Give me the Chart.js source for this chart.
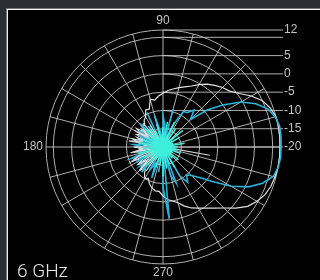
<!DOCTYPE html>
<html>
<head>
<meta charset="utf-8">
<script src="https://cdn.jsdelivr.net/npm/chart.js@4.4.1/dist/chart.umd.min.js"></script>
<style>
  html, body { margin: 0; padding: 0; background: #2a2d33; }
  #frame { position: absolute; left: 6px; top: 8px; right: 0; bottom: 0; border-left: 1px solid #777; border-top: 1px solid #777; }
  #panel { position: absolute; left: 0; top: 0; right: 0; bottom: 0; background: #000; border-left: 1px solid #eee; border-top: 1px solid #eee; }
  #chart { position: absolute; left: 0; top: 0; }
</style>
</head>
<body>
<div id="frame"><div id="panel"></div></div>
<canvas id="chart" width="320" height="280"></canvas>
<script>
// angles in degrees, counter-clockwise from the right (0 = right, 90 = top)
var ANGLES = [0,5,10,15,20,25,30,35,40,45,50,55,60,65,70,75,80,85,
              90,95,100,105,110,115,120,125,130,135,140,145,150,155,160,165,170,175,
              180,185,190,195,200,205,210,215,220,225,230,235,240,245,250,255,260,265,
              270,275,280,285,290,295,300,305,310,315,320,325,330,335,340,345,350,355];

// gain in dB, one value per angle above
var whiteMain = [12.0,12.1,12.1,12.0,11.2,10.0,7.9,5.5,3.8,3.0,2.0,1.0,-0.3,-1.6,-2.5,-3.2,-3.9,-4.5,
                 -5.3,-6.0,-7.0,-6.5,-9.0,-8.8,-10.5,-11.0,-12.2,-11.5,-13.8,-11.2,-13.5,-12.0,-15.0,-11.5,-13.2,-15.5,
                 -12.5,-14.2,-12.0,-15.0,-12.6,-11.0,-14.0,-11.6,-13.0,-11.0,-12.6,-11.2,-10.0,-10.5,-9.2,-8.4,-7.8,-7.8,
                 -6.6,-5.6,-5.0,-4.2,-2.8,-1.6,-0.7,0.4,1.8,3.6,6.0,8.3,9.7,10.8,11.4,11.7,11.9,12.0];

var whiteCross = [-20,-20,-20,-20,-20,-20,-20,-20,-20,-20,-20,-20,-20,-20,-20,-20,-20,-20,
                  -20,-20,-20,-20,-20,-20,-13,-20,-11.5,-20,-12,-15,-11,-20,-12.5,-14,-10.5,-20,
                  -12,-15,-11,-20,-13,-10.5,-20,-12,-14.5,-11,-20,-12,-20,-20,-20,-20,-20,-20,
                  -20,-20,-20,-20,-20,-20,-20,-20,-20,-20,-20,-20,-20,-20,-20,-20,-7,-20];

var cyanMain = [12.3,12.4,12.4,11.8,10.5,8.0,4.6,0.0,-4.3,-9.4,-6.8,-8.5,-8.8,-13.0,-20,-9.4,-20,-14.0,
                -11.5,-20,-15.5,-11.0,-20,-9.6,-20,-13.0,-15.5,-11.0,-20,-12.0,-15.0,-12.8,-20,-12.5,-16.0,-12.0,
                -14.5,-20,-12.5,-15.0,-10.8,-14.5,-11.5,-20,-12.0,-14.0,-11.0,-20,-12.5,-15.0,-11.0,-20,-13.0,-20,
                -9.0,-0.3,-20,-12.0,-9.5,-20,-11.0,-8.2,-10.0,-9.0,-7.0,-3.5,1.5,5.8,9.0,11.2,12.0,12.3];

var aquaCenter = [-16,-20,-14,-20,-17,-20,-15,-20,-13,-18,-20,-14,-20,-12.5,-17,-20,-13,-20,
                  -14.5,-17,-20,-13.5,-20,-15,-20,-14,-20,-13,-17,-20,-15,-20,-14,-20,-13.5,-17,
                  -20,-14.5,-20,-13,-17,-20,-14,-20,-15.5,-20,-13.5,-20,-16,-20,-14,-20,-15,-20,
                  -12,-20,-14,-20,-15,-20,-13.5,-20,-16,-20,-14.5,-20,-17,-20,-15,-20,-16,-20];

var RING_VALUES = [12, 10, 5, 0, -5, -10, -15, -20];
var RING_LABELS = ['12', '', '5', '0', '-5', '-10', '-15', '-20'];
var AXIS_LABELS = ['90', '180', '270'];
var CAPTION = '6 GHz';

var GRID = 'rgba(205,205,205,0.85)';

// radar goes clockwise from the start angle, so walk the angles backwards
var order = ANGLES.map(function(a, k) { return (ANGLES.length - k) % ANGLES.length; });
var labels = order.map(function(i) { return ANGLES[i]; });
function pick(arr) { return order.map(function(i) { return arr[i]; }); }

var polarText = {
  id: 'polarText',
  beforeDatasetsDraw: function(chart) {
    var s = chart.scales.r, c = chart.ctx;
    var xEnd = s.xCenter + s.drawingArea + 3;
    c.save();
    c.strokeStyle = GRID;
    c.lineWidth = 1;
    RING_VALUES.forEach(function(v) {
      var y = s.yCenter - s.getDistanceFromCenterForValue(v);
      c.beginPath();
      c.moveTo(s.xCenter, y);
      c.lineTo(xEnd, y);
      c.stroke();
    });
    c.restore();
  },
  afterDraw: function(chart) {
    var s = chart.scales.r, c = chart.ctx;
    var xEnd = s.xCenter + s.drawingArea + 3;
    c.save();
    c.fillStyle = '#c4c4c4';
    c.font = '12px "Liberation Sans"';
    c.textBaseline = 'middle';
    c.textAlign = 'left';
    RING_VALUES.forEach(function(v, i) {
      var y = s.yCenter - s.getDistanceFromCenterForValue(v);
      c.fillText(RING_LABELS[i], xEnd + 1, y);
    });
    AXIS_LABELS.forEach(function(t) {
      var idx = labels.indexOf(Number(t));
      var far = t === '180' ? s.drawingArea + 3 : s.drawingArea + 9;
      var p = s.getPointPosition(idx, far);
      c.textAlign = t === '180' ? 'right' : 'center';
      c.fillText(t, p.x, p.y);
    });
    c.fillStyle = '#e8e8e8';
    c.font = '300 19px Roboto';
    c.textAlign = 'left';
    c.textBaseline = 'alphabetic';
    c.fillText(CAPTION, 17, 277);
    c.restore();
  }
};

var ctx = document.getElementById('chart');

var chart = new Chart(ctx, {
  type: 'radar',
  data: {
    labels: labels,
    datasets: [
      { label: 'center', data: pick(aquaCenter), borderColor: '#3ef0dc', borderWidth: 1.5,
        fill: 'start', backgroundColor: 'rgba(60,240,220,0.35)' },
      { label: 'white cross', data: pick(whiteCross), borderColor: '#d8d8d8', borderWidth: 1.2, fill: false },
      { label: 'cyan', data: pick(cyanMain), borderColor: '#2ab4dc', borderWidth: 1.6, fill: false },
      { label: 'white', data: pick(whiteMain), borderColor: '#e2e2e2', borderWidth: 1.2, fill: false }
    ]
  },
  options: {
    responsive: false,
    animation: false,
    layout: { padding: { left: 46, top: 30, right: 40, bottom: 16 } },
    plugins: { legend: { display: false }, tooltip: { enabled: false } },
    elements: { point: { radius: 0 }, line: { tension: 0 } },
    scales: {
      r: {
        min: -20,
        max: 12,
        startAngle: 90,
        ticks: { display: false, stepSize: 5 },
        grid: { circular: true, color: GRID, lineWidth: 1 },
        angleLines: {
          color: function(c) { return c.index % 3 === 0 ? GRID : 'transparent'; },
          lineWidth: 1
        },
        pointLabels: { display: false }
      }
    }
  },
  plugins: [polarText]
});
</script>
</body>
</html>
